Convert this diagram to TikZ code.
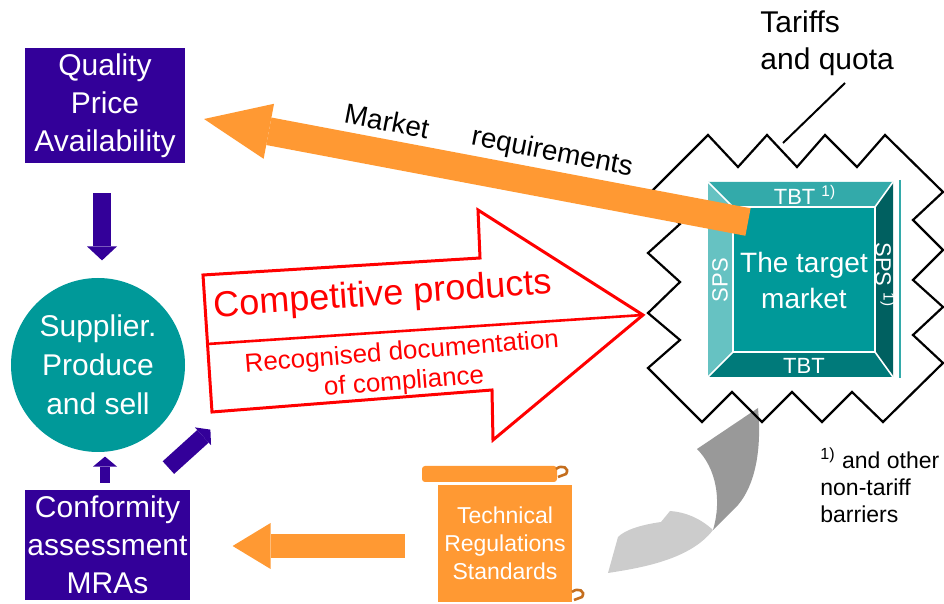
\documentclass[tikz,border=0pt]{standalone}
\usepackage{fontspec}
\setmainfont{Liberation Sans}
\usetikzlibrary{arrows.meta}
\definecolor{qpurple}{RGB}{51,0,153}
\definecolor{mteal}{RGB}{0,153,153}
\definecolor{tealtop}{RGB}{51,170,170}
\definecolor{tealleft}{RGB}{102,194,194}
\definecolor{tealright}{RGB}{0,96,96}
\definecolor{tealbottom}{RGB}{0,122,122}
\definecolor{morange}{RGB}{255,153,51}
\definecolor{mred}{RGB}{255,0,0}
\definecolor{graydark}{RGB}{153,153,153}
\definecolor{graylight}{RGB}{204,204,204}
\definecolor{scrollbrown}{RGB}{196,110,30}
\tikzset{
  darkbox/.style={fill=qpurple, text=white, align=center, inner sep=0pt,
    font=\fontsize{15}{19}\selectfont},
  bevellabel/.style={text=white, inner sep=0pt, font=\fontsize{11}{12}\selectfont},
  redlabel/.style={text=mred, align=center, inner sep=0pt},
  purplearrow/.style={draw=qpurple, line width=#1},
  orangearrow/.style={draw=morange, line width=#1},
}

\begin{document}
\begin{tikzpicture}[x=0.5pt,y=-0.5pt]
  \useasboundingbox (0,0) rectangle (944,604);
  % Left column: requirements, supplier, conformity
  \node[darkbox, minimum width=80pt, minimum height=57.5pt] (qpa) at (105,105.5) {Quality\\Price\\Availability};
  \node[circle, fill=mteal, text=white, minimum size=87pt, inner sep=0pt, align=center,
    font=\fontsize{15}{19.5}\selectfont] (supplier) at (98,365) {Supplier.\\Produce\\and sell};
  \node[darkbox, minimum width=82.5pt, minimum height=55pt] (cma) at (107.5,545) {Conformity\\assessment\\MRAs};
  % Purple arrows
  \draw[purplearrow=9pt, -{Triangle[width=15pt,length=7pt,line width=0pt]}, qpurple]
    (qpa.south) ++(-3,30) -- ++(0,67);
  \draw[purplearrow=5pt, -{Triangle[width=12pt,length=5pt,line width=0pt]}, qpurple]
    (cma.north) ++(-2.5,-7) -- ++(0,-26);
  \draw[purplearrow=8.5pt, -{Triangle[width=12pt,length=5pt,line width=0pt]}, qpurple]
    (cma.north east) ++(-22,-22) -- ++(42,-38);
  % Technical regulations scroll
  \fill[morange, rounded corners=1.5pt] (422,466) rectangle (557,482);
  \node[fill=morange, text=white, align=center, minimum width=67pt, minimum height=58.5pt, inner sep=0pt,
    font=\fontsize{11.5}{14}\selectfont] (tech) at (505,543.5) {Technical\\Regulations\\Standards};
  \draw[scrollbrown, line width=1.3pt] (556,469) .. controls (562,464) and (570,468) .. (566,474) -- (558,477);
  \draw[scrollbrown, line width=1.3pt] (572,592) .. controls (578,587) and (586,591) .. (582,597) -- (574,600);
  % Orange arrow to conformity assessment
  \draw[orangearrow=12pt, -{Triangle[width=23pt,length=19pt,line width=0pt]}, morange]
    (tech.west) ++(-33,2.5) -- ++(-172,0);
  % Grey curved arrow
  \fill[graydark] (697,449) -- (758,408) .. controls (762,450) and (755,485) .. (738,505)
    -- (713,530) .. controls (722,500) and (716,468) .. (697,449) -- cycle;
  \fill[graylight] (713,530) .. controls (700,518) and (685,512) .. (670,511) -- (661,522)
    .. controls (640,525) and (625,530) .. (618,537) -- (608,573)
    .. controls (640,568) and (690,560) .. (713,530) -- cycle;
  % Tariff barrier (zigzag)
  \draw[line width=1.1pt, line join=miter] (648,195) -- (708,135) -- (738,167) -- (767,135) -- (797,167)
    -- (825,135) -- (857,167) -- (885,135) -- (943,192) -- (913,220) -- (943,250) -- (913,280)
    -- (943,307) -- (913,335) -- (943,363) -- (883,422) -- (852,392) -- (822,422) -- (792,392)
    -- (762,422) -- (732,392) -- (702,422) -- (648,368) -- (680,340) -- (648,313) -- (680,282)
    -- (648,253) -- (680,224) -- cycle;
  % Target market box with bevels
  \fill[tealtop] (708,182) -- (893,182) -- (875,207) -- (733,207) -- cycle;
  \fill[tealleft] (708,182) -- (733,207) -- (733,352) -- (708,377) -- cycle;
  \fill[tealright] (893,182) -- (893,377) -- (875,352) -- (875,207) -- cycle;
  \fill[tealbottom] (708,377) -- (893,377) -- (875,352) -- (733,352) -- cycle;
  \fill[mteal] (733,207) rectangle (875,352);
  \draw[white, line width=0.8pt] (733,207) rectangle (875,352);
  \draw[white, line width=0.8pt] (708,182) -- (733,207) (893,182) -- (875,207)
    (893,377) -- (875,352) (708,377) -- (733,352);
  \draw[tealtop, line width=1pt] (900,180) -- (900,378);
  \node[text=white, align=center, font=\fontsize{14}{18}\selectfont] (target) at (804,280) {The target\\market};
  \node[bevellabel] (tbttop) at (805,195) {TBT \textsuperscript{1)}};
  \node[bevellabel, rotate=90] (spsleft) at (720,280) {SPS};
  \node[bevellabel, rotate=-90] (spsright) at (885,275) {SPS \textsuperscript{1)}};
  \node[bevellabel] (tbtbottom) at (804,366) {TBT};
  % Red arrow: competitive products
  \coordinate (rtail1) at (203,275);
  \coordinate (rshaft1) at (480,258);
  \coordinate (rhead1) at (478,210);
  \coordinate (rtip) at (643,315);
  \coordinate (rhead2) at (493,440);
  \coordinate (rshaft2) at (492,390);
  \coordinate (rtail2) at (212,412);
  \coordinate (rsplit) at (207.5,344);
  \draw[mred, line width=1.5pt, line join=miter] (rtail1) -- (rshaft1) -- (rhead1) -- (rtip)
    -- (rhead2) -- (rshaft2) -- (rtail2) -- cycle;
  \draw[mred, line width=1.3pt] (rsplit) -- (rtip);
  \node[redlabel, rotate=4, font=\fontsize{18}{20}\selectfont] (comp) at (383,296) {Competitive products};
  \node[redlabel, rotate=4.5, font=\fontsize{13}{15}\selectfont] (docs) at (403,368) {Recognised documentation\\of compliance};
  % Market requirements arrow
  \draw[orangearrow=14pt, -{Triangle[width=28pt,length=33pt,line width=0pt]}, morange]
    (target) ++(-56,-58) -- ++(-544,-103);
  \node[rotate=-11, font=\fontsize{14}{16}\selectfont] (mkt) at (387,121) {Market};
  \node[rotate=-11, font=\fontsize{14}{16}\selectfont] (req) at (552,153) {requirements};
  % Tariffs label and footnote
  \node[anchor=west, align=left, inner sep=0pt, font=\fontsize{15}{18.5}\selectfont] (tariffs) at (760,43) {Tariffs\\and quota};
  \coordinate (tqstart) at (845,83);
  \coordinate (tqend) at (783,143);
  \draw[line width=1pt] (tqstart) -- (tqend);
  \node[anchor=west, align=left, inner sep=0pt, font=\fontsize{11.5}{13.5}\selectfont] (note) at (820,485) {\textsuperscript{1)} and other\\non-tariff\\barriers};
\end{tikzpicture}
\end{document}
